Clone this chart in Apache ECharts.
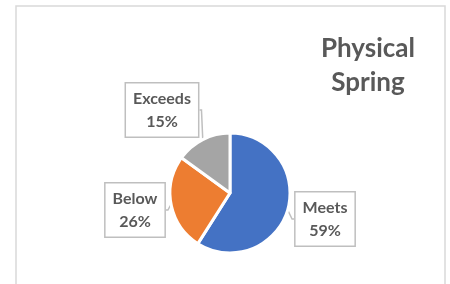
<!DOCTYPE html>
<html>
<head>
<meta charset="utf-8">
<script src="https://cdn.jsdelivr.net/npm/echarts@6/dist/echarts.min.js"></script>
<style>
  html, body { margin: 0; padding: 0; background: #fff; }
  #main { width: 450px; height: 284px; }
</style>
</head>
<body>
<div id="main"></div>
<script>
// data
var categories = ['Meets', 'Below', 'Exceeds'];
var values = [59, 26, 15];
var colors = ['#4472C4', '#ED7D31', '#A5A5A5'];

// where each callout box sits (centre of box)
var labelSpots = [[325, 219], [135, 210], [162, 110]];

var chart = echarts.init(document.getElementById('main'), null, { renderer: 'canvas' });

chart.setOption({
  backgroundColor: '#fff',
  animation: false,
  title: {
    text: 'Physical\nSpring',
    left: 363,
    top: 27,
    textAlign: 'center',
    textStyle: {
      color: '#595959',
      fontFamily: 'Lato',
      fontWeight: 'bold',
      fontSize: 26,
      lineHeight: 34
    }
  },
  graphic: [{
    type: 'rect',
    shape: { x: 16, y: 6, width: 429, height: 300 },
    style: { fill: 'none', stroke: '#d9d9d9', lineWidth: 1.5 },
    silent: true
  }],
  series: [{
    type: 'pie',
    center: [230, 193],
    radius: 60,
    startAngle: 90,
    clockwise: true,
    data: categories.map(function (c, i) {
      return { name: c, value: values[i], itemStyle: { color: colors[i] } };
    }),
    itemStyle: { borderColor: '#fff', borderWidth: 3 },
    label: {
      show: true,
      formatter: '{b}\n{d}%',
      color: '#595959',
      fontFamily: 'Lato',
      fontWeight: 'bold',
      fontSize: 16,
      lineHeight: 23,
      align: 'center',
      backgroundColor: '#fff',
      borderColor: '#bfbfbf',
      borderWidth: 1.5,
      padding: [4, 7, 3, 7]
    },
    labelLine: {
      show: true,
      length: 4,
      length2: 2,
      lineStyle: { color: '#bfbfbf', width: 1.5 }
    },
    labelLayout: function (p) {
      var s = labelSpots[p.dataIndex];
      return { x: s[0], y: s[1], align: 'center', verticalAlign: 'middle' };
    }
  }]
});
</script>
</body>
</html>
